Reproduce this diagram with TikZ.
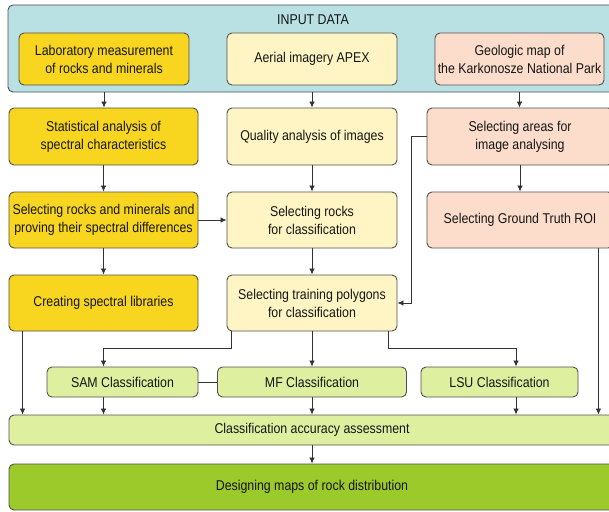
\documentclass[tikz,border=0pt]{standalone}
\usepackage{fontspec}
\setmainfont{Liberation Sans}[FakeStretch=0.87]
\usetikzlibrary{arrows.meta,calc}
\definecolor{cinput}{HTML}{B9E1E4}
\definecolor{cyel}{HTML}{F8D61F}
\definecolor{clyel}{HTML}{FFF5C4}
\definecolor{csal}{HTML}{FCDDCB}
\definecolor{clgreen}{HTML}{DEF0A0}
\definecolor{cgreen}{HTML}{9DCA2B}
\definecolor{cline}{HTML}{333333}
\definecolor{cbord}{HTML}{505050}
\definecolor{ctext}{HTML}{151515}
\begin{document}
\begin{tikzpicture}[x=1pt,y=-1pt,
  box/.style={draw=cbord,line width=0.9pt,rounded corners=5pt,inner sep=0pt,align=center,
    text=ctext,font=\fontsize{14.2}{18}\selectfont},
  arr/.style={draw=cline,line width=0.8pt,-{Latex[length=6pt,width=5.5pt]}},
  ln/.style={draw=cline,line width=0.8pt}]
\useasboundingbox (0,0) rectangle (609,511);
\clip (0,0) rectangle (609,511);
\fill[white] (0,0) rectangle (609,511);
% input data
\node[box,fill=cinput,minimum width=610pt,minimum height=87pt] (input) at (313,48.5) {};
\node[text=ctext,font=\fontsize{14.2}{18}\selectfont] (inlab) at (313,20) {INPUT DATA};
\node[box,fill=cyel,minimum width=170pt,minimum height=52pt] (lab) at (104,59) {Laboratory measurement\\of rocks and minerals};
\node[box,fill=clyel,minimum width=170pt,minimum height=52pt] (aer) at (312,59) {Aerial imagery APEX};
\node[box,fill=csal,minimum width=169pt,minimum height=52pt] (geo) at (519.5,59) {Geologic map of\\the Karkonosze National Park};
% row 2
\node[box,fill=cyel,minimum width=189pt,minimum height=57pt] (stat) at (103.5,136.5) {Statistical analysis of\\spectral characteristics};
\node[box,fill=clyel,minimum width=170pt,minimum height=57pt] (qual) at (312,136.5) {Quality analysis of images};
\node[box,fill=csal,minimum width=186pt,minimum height=57pt] (areas) at (520,136.5) {Selecting areas for\\image analysing};
% row 3
\node[box,fill=cyel,minimum width=189pt,minimum height=56pt] (selrm) at (103.5,220) {Selecting rocks and minerals and\\proving their spectral differences};
\node[box,fill=clyel,minimum width=170pt,minimum height=56pt] (selr) at (312,220) {Selecting rocks\\for classification};
\node[box,fill=csal,minimum width=186pt,minimum height=56pt] (gt) at (520,220) {Selecting Ground Truth ROI};
% row 4
\node[box,fill=cyel,minimum width=189pt,minimum height=56pt] (crlib) at (103.5,303) {Creating spectral libraries};
\node[box,fill=clyel,minimum width=170pt,minimum height=56pt] (train) at (312,303) {Selecting training polygons\\for classification};
% row 5
\node[box,fill=clgreen,minimum width=151pt,minimum height=30pt] (sam) at (122.5,382) {SAM Classification};
\node[box,fill=clgreen,minimum width=189pt,minimum height=30pt] (mf) at (312,382) {MF Classification};
\node[box,fill=clgreen,minimum width=157pt,minimum height=30pt] (lsu) at (499.5,382) {LSU Classification};
% bottom
\node[box,fill=clgreen,minimum width=606pt,minimum height=30pt] (acc) at (312,430) {Classification accuracy assessment};
\node[box,fill=cgreen,minimum width=606pt,minimum height=46pt] (des) at (312,487) {Designing maps of rock distribution};
% connectors
\draw[arr] (input.south -| lab) -- (stat.north -| lab);
\draw[arr] (input.south -| aer) -- (qual.north -| aer);
\draw[arr] (input.south -| geo) -- (areas.north -| geo);
\draw[arr] (stat.south) -- (selrm.north);
\draw[arr] (qual.south) -- (selr.north);
\draw[arr] (areas.south) -- (gt.north);
\draw[arr] (selrm.east) -- (selr.west);
\draw[arr] (selrm.south) -- (crlib.north);
\draw[arr] (selr.south) -- (train.north);
\coordinate (ax) at ($(areas.west)+(-15,0)$);
\draw[arr] (areas.west) -- (ax) |- (train.east);
\coordinate (tl) at ($(train.south west)+(5,0)$);
\coordinate (tr) at ($(train.south east)+(-9,0)$);
\draw[arr] (tl) -- ++(0,17) -| (sam.north -| crlib.south);
\draw[arr] (train.south) -- (mf.north);
\coordinate (lx) at ($(lsu.north)+(16.5,0)$);
\draw[arr] (tr) -- ++(0,17) -| (lx);
\draw[ln] (sam.east) -- (mf.west);
\coordinate (cl) at ($(crlib.south west)+(14,0)$);
\draw[arr] (cl) -- (acc.north -| cl);
\draw[arr] (sam.south -| crlib.south) -- (acc.north -| crlib.south);
\draw[arr] (mf.south) -- (acc.north -| mf.south);
\draw[arr] (lsu.south -| lx) -- (acc.north -| lx);
\coordinate (gx) at ($(gt.south east)+(-15,0)$);
\draw[arr] (gx) -- (acc.north -| gx);
\draw[arr] (acc.south) -- (des.north);
\end{tikzpicture}
\end{document}
